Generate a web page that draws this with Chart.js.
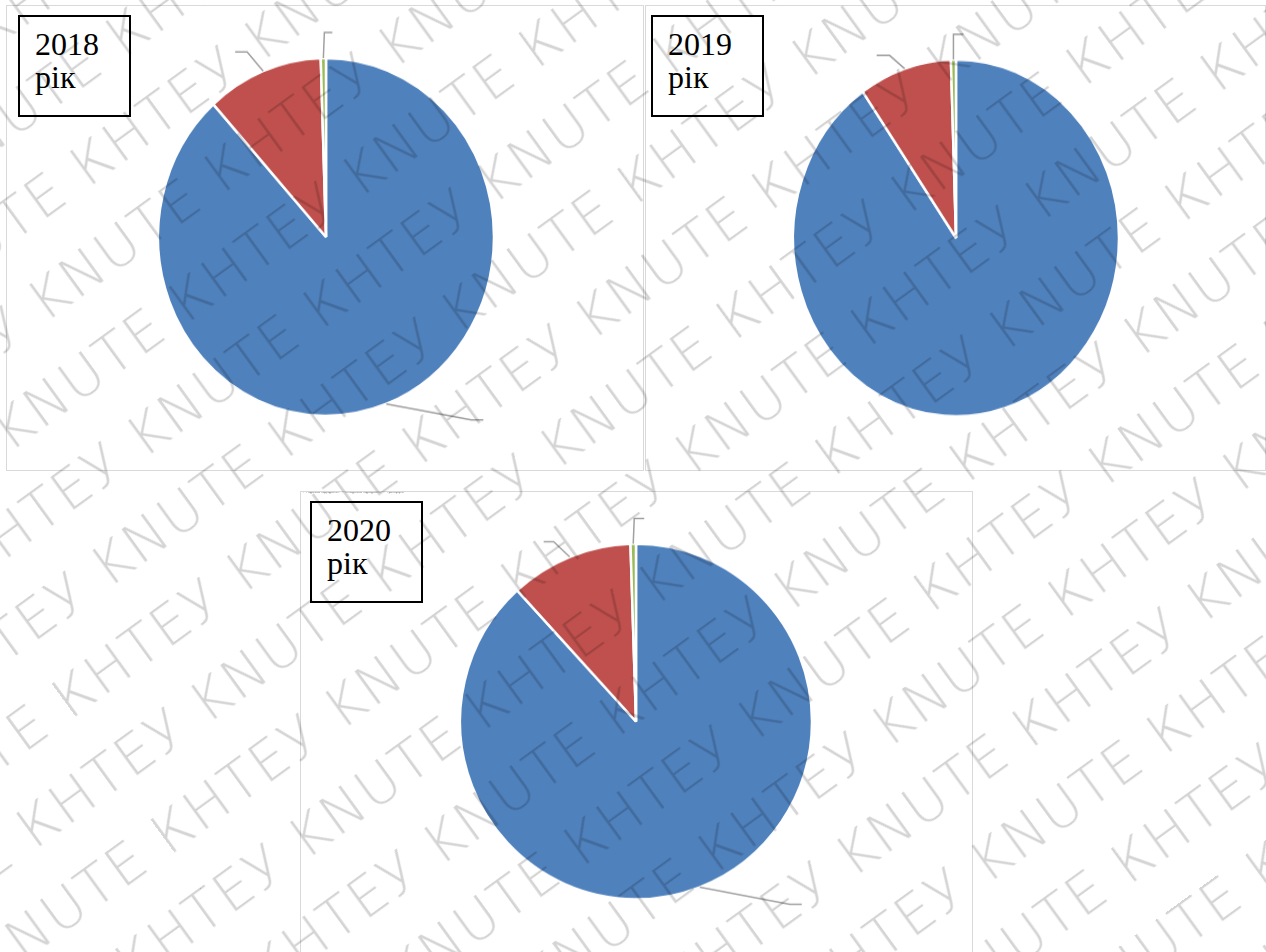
<!DOCTYPE html>
<html>
<head>
<meta charset="utf-8">
<script src="https://cdn.jsdelivr.net/npm/chart.js@4.4.0/dist/chart.umd.min.js"></script>
<style>
  body { margin: 0; width: 1266px; height: 952px; position: relative; overflow: hidden; background: #fff; }
  .panel { position: absolute; border: 1px solid #d9d9d9; box-sizing: border-box; background: #fff; overflow: hidden; }
  .panel canvas { position: absolute; left: 0; top: 0; }
  .year { position: absolute; box-sizing: border-box; width: 113px; height: 102px; border: 2px solid #000; background: #fff;
          font-family: 'Liberation Serif', 'Times New Roman', 'DejaVu Serif', serif; font-size: 32px; line-height: 33px;
          color: #000; padding: 11px 0 0 15px; }
  #wmwrap { position: absolute; left: 0; top: 0; width: 1266px; height: 952px; overflow: hidden; pointer-events: none; }
  #wm { position: absolute; left: -600px; top: -900px; width: 2500px; height: 2800px; transform: rotate(-36deg);
        font-family: 'DejaVu Sans', sans-serif; font-weight: 200; font-size: 56px; line-height: 84px; letter-spacing: 2px;
        color: rgba(0,0,0,0.17); white-space: nowrap; }
</style>
</head>
<body>
<div class="panel" style="left:6px;top:5px;width:638px;height:466px"><canvas id="c2018" width="636" height="464"></canvas></div>
<div class="panel" style="left:645px;top:5px;width:621px;height:466px"><canvas id="c2019" width="619" height="464"></canvas></div>
<div class="panel" style="left:300px;top:491px;width:673px;height:472px"><canvas id="c2020" width="671" height="470"></canvas></div>

<div class="year" style="left:18px;top:15px">2018<br>рік</div>
<div class="year" style="left:651px;top:15px">2019<br>рік</div>
<div class="year" style="left:310px;top:501px">2020<br>рік</div>

<div id="wmwrap"><div id="wm"></div></div>

<script>
const categories = ['Податкові надходження', 'Неподаткові надходження', 'Трансферти'];
const shares2018 = [88.3, 11.2, 0.5];
const shares2019 = [90.3, 9.2, 0.5];
const shares2020 = [88.2, 11.3, 0.5];
const sliceColors = ['#4f81bd', '#c0504d', '#9bbb59'];

// leader lines: elbow offset from the slice's outer midpoint, then a short horizontal tail
const leaderLines = {
    id: 'leaderLines',
    afterDatasetsDraw(chart, args, opts) {
        const { ctx } = chart;
        const arcs = chart.getDatasetMeta(0).data;
        ctx.save();
        ctx.strokeStyle = opts.color;
        ctx.lineWidth = opts.width;
        (opts.lines || []).forEach((l, i) => {
            if (!l || !arcs[i]) return;
            const { x, y, startAngle, endAngle, outerRadius } =
                arcs[i].getProps(['x', 'y', 'startAngle', 'endAngle', 'outerRadius'], true);
            const mid = (startAngle + endAngle) / 2;
            const sx = x + Math.cos(mid) * outerRadius;
            const sy = y + Math.sin(mid) * outerRadius;
            const ex = sx + l.dx, ey = sy + l.dy;
            ctx.beginPath();
            ctx.moveTo(sx, sy);
            ctx.lineTo(ex, ey);
            ctx.lineTo(ex + l.tail, ey);
            ctx.stroke();
        });
        ctx.restore();
    }
};

function makePie(id, values, pie) {
    const canvas = document.getElementById(id);
    canvas.style.transformOrigin = pie.cx + 'px ' + pie.cy + 'px';
    canvas.style.transform = 'scaleY(' + pie.sy + ')';
    return new Chart(canvas, {
        type: 'pie',
        data: {
            labels: categories,
            datasets: [{
                data: values,
                backgroundColor: sliceColors,
                borderColor: '#ffffff',
                borderWidth: 2.5,
                radius: pie.r,
            }],
        },
        options: {
            responsive: false,
            animation: false,
            devicePixelRatio: 1,
            layout: { padding: pie.padding },
            plugins: {
                legend: {
                    position: 'top',
                    align: 'start',
                    labels: { font: { size: 3 }, boxWidth: 3, boxHeight: 3, padding: 1, color: '#404040' },
                },
                tooltip: { enabled: false },
                leaderLines: { color: '#a0a0a0', width: 1.5, lines: pie.lines },
            },
        },
        plugins: [leaderLines],
    });
}

makePie('c2018', shares2018, {
    r: 168, sy: 1.065, cx: 319, cy: 231.5,
    padding: { left: 2, right: 0, top: 0, bottom: 16 },
    lines: [{ dx: 85, dy: 15, tail: 12 }, { dx: -16, dy: -18, tail: -12 }, { dx: 1, dy: -24, tail: 8 }],
});
makePie('c2019', shares2019, {
    r: 163, sy: 1.095, cx: 310, cy: 232.5,
    padding: { left: 1, right: 0, top: 0, bottom: 14 },
    lines: [null, { dx: -15, dy: -12, tail: -13 }, { dx: 0, dy: -23, tail: 10 }],
});
makePie('c2020', shares2020, {
    r: 176, sy: 1.01, cx: 335, cy: 230,
    padding: { left: 0, right: 1, top: 0, bottom: 25 },
    lines: [{ dx: 90, dy: 17, tail: 12 }, { dx: -16, dy: -15, tail: -10 }, { dx: 1, dy: -25, tail: 10 }],
});

// diagonal watermark rows
const wm = document.getElementById('wm');
for (let r = 0; r < 34; r++) {
    const row = document.createElement('div');
    row.style.marginLeft = (r % 2 ? -105 : 0) + 'px';
    row.textContent = 'KNUTE КНТЕУ '.repeat(16);
    wm.appendChild(row);
}
</script>
</body>
</html>
